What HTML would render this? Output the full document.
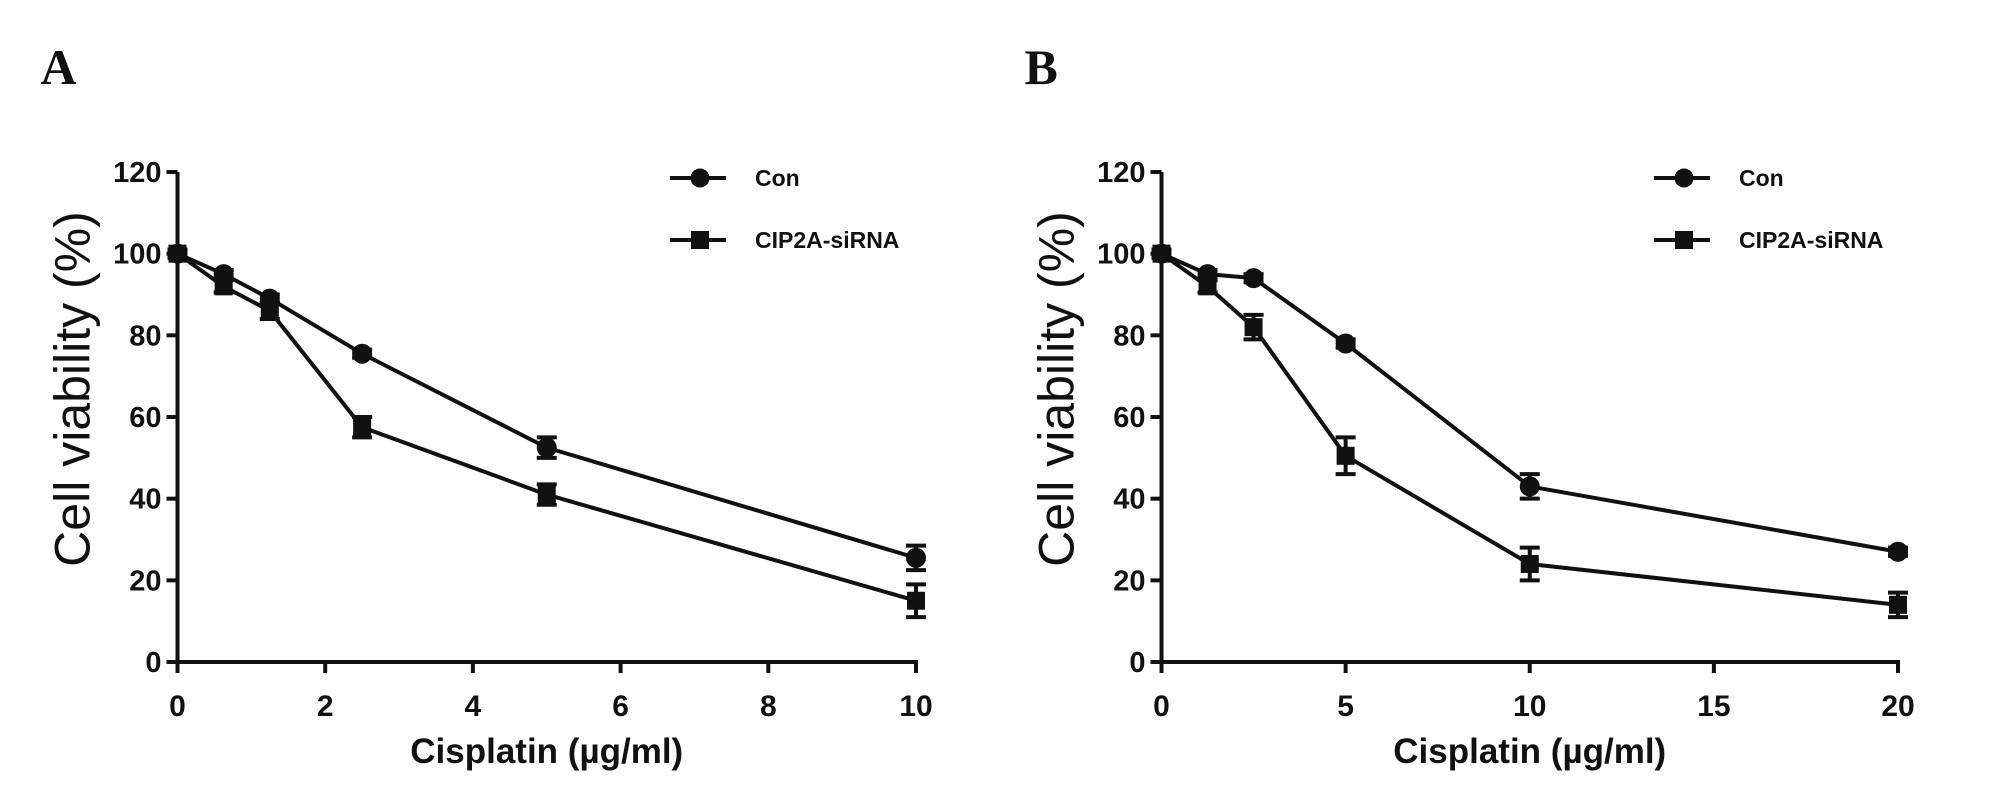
<!DOCTYPE html>
<html><head><meta charset="utf-8"><style>
html,body{margin:0;padding:0;background:#fff;}
svg{display:block;}
text{font-family:"Liberation Sans",sans-serif;fill:#111;}
</style></head><body>
<svg id="fig" width="2008" height="807" viewBox="0 0 2008 807">
<rect width="2008" height="807" fill="#fff"/>
</svg>
<script>
const xA = [0, 0.625, 1.25, 2.5, 5, 10];
const conA = [100, 95, 89, 75.5, 52.5, 25.5];
const conErrA = [0, 1, 1, 1, 2.5, 3];
const siA = [100, 92, 86, 57.5, 41, 15];
const siErrA = [1, 1.5, 2, 2.5, 2.5, 4];
const xTicksA = [0, 2, 4, 6, 8, 10];

const xB = [0, 1.25, 2.5, 5, 10, 20];
const conB = [100, 95, 94, 78, 43, 27];
const conErrB = [0, 1, 1, 1, 3, 1];
const siB = [100, 92, 82, 50.5, 24, 14];
const siErrB = [1, 1.5, 3, 4.5, 4, 3];
const xTicksB = [0, 5, 10, 15, 20];

const yTicks = [0, 20, 40, 60, 80, 100, 120];

const NS = "http://www.w3.org/2000/svg";
const svg = document.getElementById('fig');
function mk(tag, attrs, parent){
  const e = document.createElementNS(NS, tag);
  for (const k in attrs) e.setAttribute(k, attrs[k]);
  (parent||svg).appendChild(e);
  return e;
}

function panel(letter, x0px, x1px, xmax, xs, con, conErr, si, siErr, xTicks, legX){
  const y0px = 662, y1px = 172;
  const sx = v => x0px + (x1px - x0px) * v / xmax;
  const sy = v => y0px - (y0px - y1px) * v / 120;
  const g = mk('g', {});
  
  

  const lab = mk('text', {x: x0px - 137, y: 84, 'font-size': 50, 'font-weight': 'bold'}, g);
  lab.setAttribute('style', 'font-family:"Liberation Serif",serif');
  lab.textContent = letter;
  
  

  const ya = mk('line', {x1: x0px, y1: y1px, x2: x0px, y2: y0px + 2, stroke: '#111', 'stroke-width': 4}, g);
  
  
  const xa = mk('line', {x1: x0px - 2, y1: y0px, x2: x1px + 2, y2: y0px, stroke: '#111', 'stroke-width': 4}, g);
  
  

  yTicks.forEach(t => {
    const y = sy(t);
    const tl = mk('line', {x1: x0px - 11, y1: y, x2: x0px, y2: y, stroke: '#111', 'stroke-width': 4}, g);
    
    
    const tt = mk('text', {x: x0px - 16, y: y + 10, 'font-size': 29, 'font-weight': 'bold', 'text-anchor': 'end'}, g);
    tt.textContent = t;
    
    
  });
  xTicks.forEach(t => {
    const x = sx(t);
    const tl = mk('line', {x1: x, y1: y0px, x2: x, y2: y0px + 11, stroke: '#111', 'stroke-width': 4}, g);
    
    
    const tt = mk('text', {x: x, y: 716, 'font-size': 30, 'font-weight': 'bold', 'text-anchor': 'middle'}, g);
    tt.textContent = t;
    
    
  });

  const yt = mk('text', {x: 0, y: 0, 'font-size': 50, 'text-anchor': 'middle', transform: `translate(${x0px - 88},${(y0px + y1px) / 2 - 28}) rotate(-90)`}, g);
  yt.textContent = 'Cell viability (%)';
  
  
  const xt = mk('text', {x: (x0px + x1px) / 2, y: 763, 'font-size': 35, 'font-weight': 'bold', 'text-anchor': 'middle'}, g);
  xt.textContent = 'Cisplatin (\u00b5g/ml)';
  
  

  function series(vals, errs, name, square){
    const pts = xs.map((v, i) => sx(v) + ',' + sy(vals[i])).join(' ');
    const pl = mk('polyline', {points: pts, fill: 'none', stroke: '#111', 'stroke-width': 4, 'stroke-linejoin': 'round'}, g);
    
    
    xs.forEach((v, i) => {
      const cx = sx(v), cy = sy(vals[i]);
      if (errs[i] > 0) {
        const yt1 = sy(vals[i] + errs[i]), yb = sy(vals[i] - errs[i]);
        const eb = mk('path', {d: `M${cx},${yt1}V${yb}M${cx - 10},${yt1}H${cx + 10}M${cx - 10},${yb}H${cx + 10}`, stroke: '#111', 'stroke-width': 4, fill: 'none'}, g);
        
        
      }
      const m = square ? mk('rect', {x: cx - 9, y: cy - 9, width: 18, height: 18, fill: '#111'}, g)
                       : mk('circle', {cx: cx, cy: cy, r: 10, fill: '#111'}, g);
      
      
    });
  }
  series(con, conErr, 'con', false);
  series(si, siErr, 'cip2a-sirna', true);

  const l1 = mk('g', {}, g);
  
  
  mk('line', {x1: legX, y1: 178, x2: legX + 56, y2: 178, stroke: '#111', 'stroke-width': 4}, l1);
  mk('circle', {cx: legX + 30, cy: 178, r: 9.5, fill: '#111'}, l1);
  const lt1 = mk('text', {x: legX + 85, y: 186, 'font-size': 23, 'font-weight': 'bold'}, l1);
  lt1.textContent = 'Con';
  const l2 = mk('g', {}, g);
  
  
  mk('line', {x1: legX, y1: 240, x2: legX + 56, y2: 240, stroke: '#111', 'stroke-width': 4}, l2);
  mk('rect', {x: legX + 21, y: 231, width: 18, height: 18, fill: '#111'}, l2);
  const lt2 = mk('text', {x: legX + 85, y: 248, 'font-size': 23, 'font-weight': 'bold'}, l2);
  lt2.textContent = 'CIP2A-siRNA';
}

panel('A', 177.5, 916, 10, xA, conA, conErrA, siA, siErrA, xTicksA, 670);
panel('B', 1161.5, 1898, 20, xB, conB, conErrB, siB, siErrB, xTicksB, 1654);
</script>
</body></html>
